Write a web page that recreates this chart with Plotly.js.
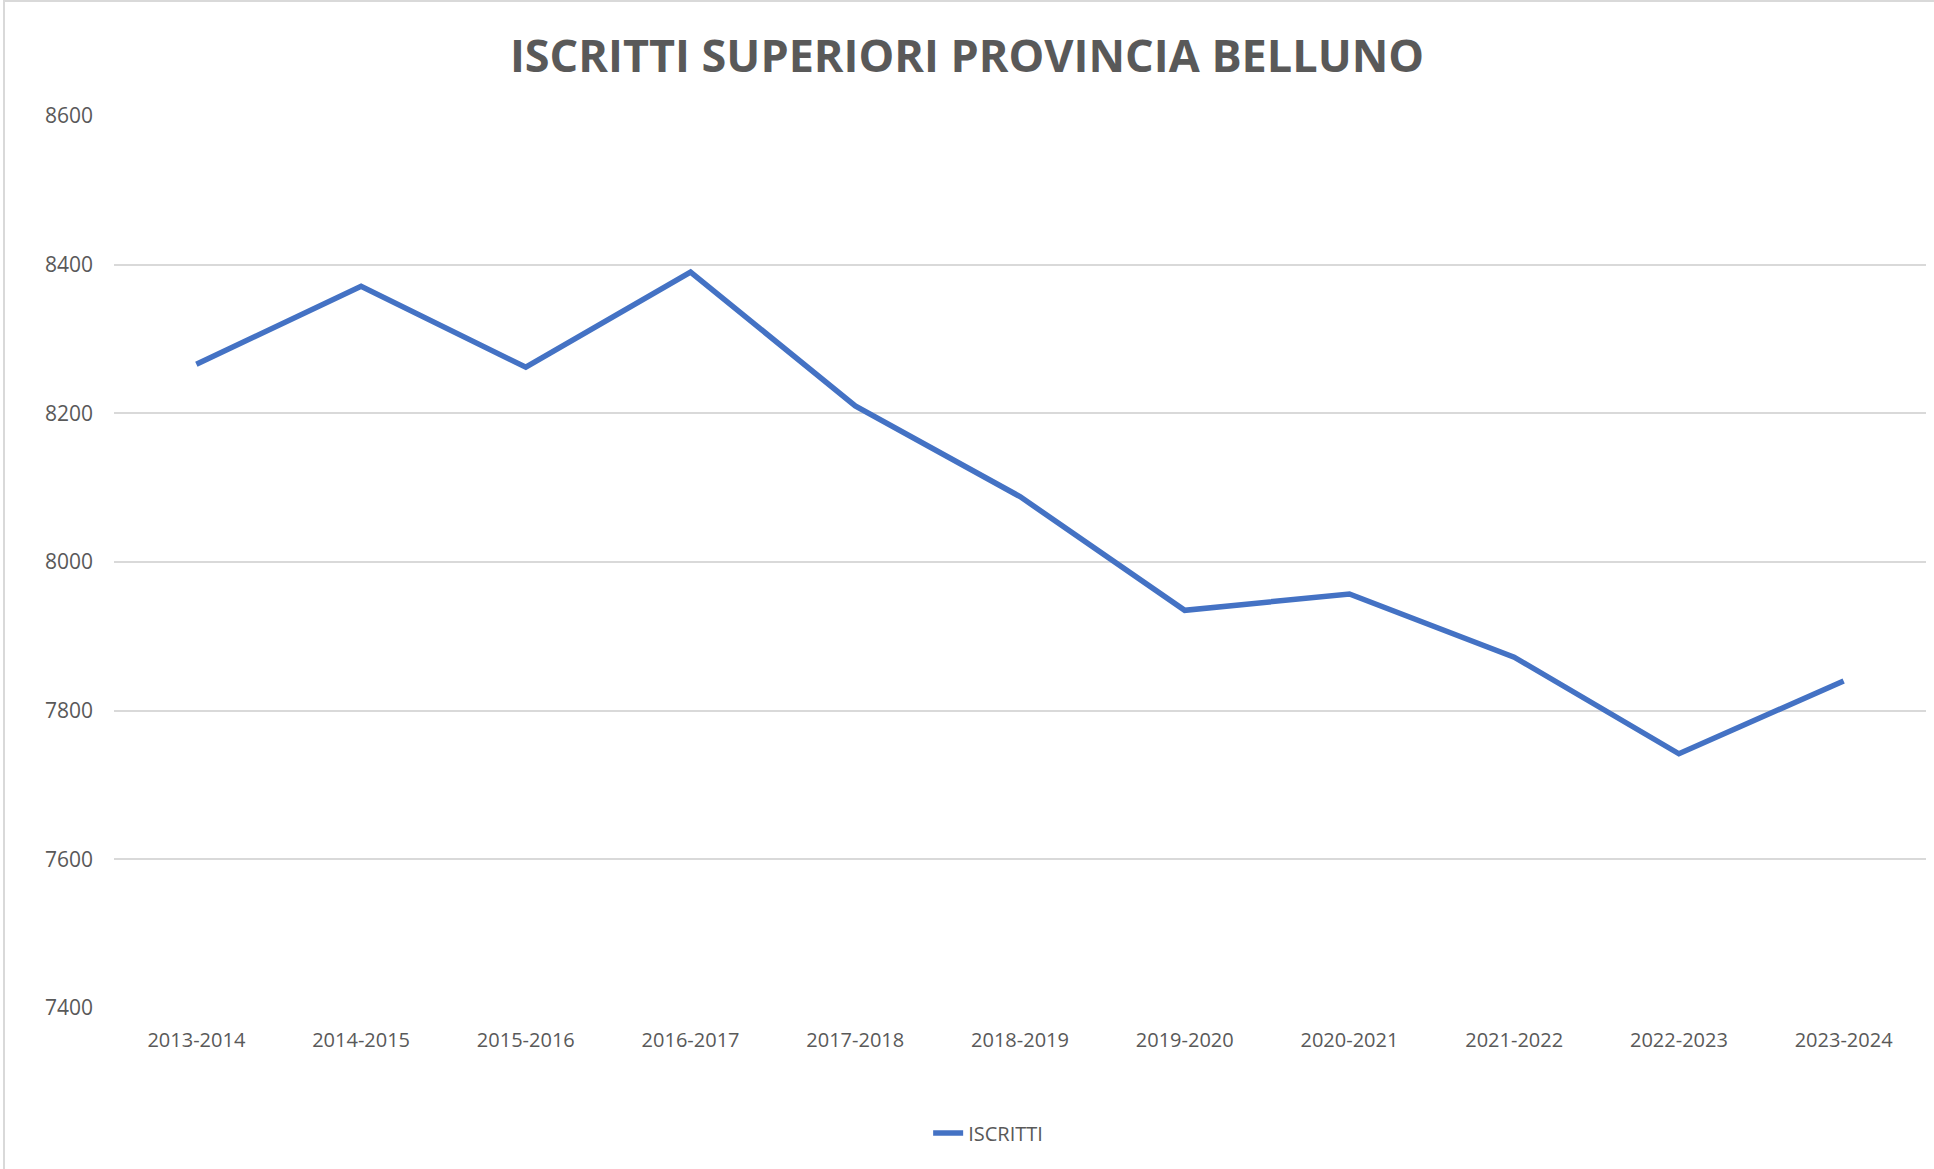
<!DOCTYPE html>
<html>
<head>
<meta charset="utf-8">
<script src="https://cdn.plot.ly/plotly-3.0.1.min.js"></script>
<style>
  html, body { margin: 0; padding: 0; background: #ffffff; }
  #frame { position: absolute; left: 3px; top: 0; width: 1931px; height: 1169px; box-sizing: border-box; border-left: 2px solid #d9d9d9; border-top: 2px solid #d9d9d9; }
  #chart { position: absolute; left: 0; top: 0; width: 1934px; height: 1169px; }
</style>
</head>
<body>
<div id="frame"></div>
<div id="chart"></div>
<script>
const categories = ["2013-2014","2014-2015","2015-2016","2016-2017","2017-2018","2018-2019","2019-2020","2020-2021","2021-2022","2022-2023","2023-2024"];
const iscritti = [8266, 8371, 8262, 8390, 8210, 8088, 7935, 7957, 7872, 7742, 7840];
const yTicks = [7400, 7600, 7800, 8000, 8200, 8400, 8600];

const trace = {
  x: categories,
  y: iscritti,
  type: 'scatter',
  mode: 'lines',
  name: 'ISCRITTI',
  line: { color: '#4472C4', width: 5.5 }
};

const layout = {
  width: 1934,
  height: 1169,
  paper_bgcolor: 'rgba(0,0,0,0)',
  plot_bgcolor: 'rgba(0,0,0,0)',
  margin: { l: 114, r: 8, t: 116, b: 161 },
  font: { family: 'Open Sans, sans-serif', color: '#595959', size: 20 },
  title: {
    text: '<b>ISCRITTI SUPERIORI PROVINCIA BELLUNO</b>',
    font: { family: 'Open Sans, sans-serif', size: 45, color: '#595959' },
    x: 0.5, xanchor: 'center',
    y: 1 - 56/1169, yref: 'container', yanchor: 'middle'
  },
  xaxis: {
    type: 'category',
    range: [-0.5, 10.5],
    showgrid: false,
    zeroline: false,
    showline: false,
    ticks: '',
    ticklabelstandoff: 18,
    tickfont: { size: 20, color: '#595959' }
  },
  yaxis: {
    range: [7400, 8600],
    tickvals: yTicks,
    ticktext: yTicks.map(String),
    showgrid: true,
    gridcolor: '#d9d9d9',
    gridwidth: 2,
    zeroline: false,
    showline: false,
    ticks: '',
    ticklabelstandoff: 20,
    tickfont: { size: 21, color: '#595959' }
  },
  showlegend: true,
  legend: {
    orientation: 'h',
    x: 0.5 - 34/1934, xanchor: 'center',
    y: 1 - 1133/1169, yref: 'container', yanchor: 'middle',
    font: { size: 20, color: '#595959' }
  }
};

Plotly.newPlot('chart', [trace], layout, { displayModeBar: false, staticPlot: true });
</script>
</body>
</html>
